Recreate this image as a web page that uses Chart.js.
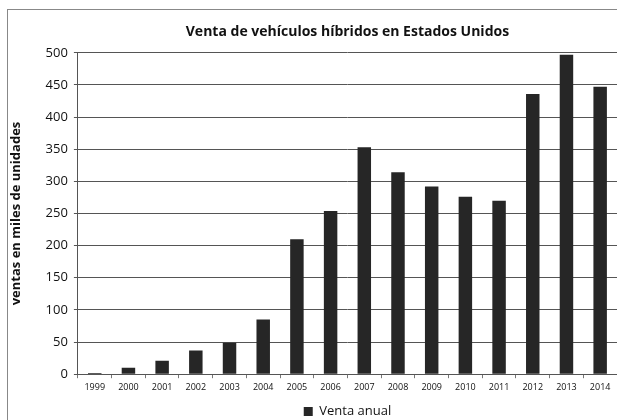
<!DOCTYPE html>
<html>
<head>
<meta charset="utf-8">
<script src="https://cdn.jsdelivr.net/npm/chart.js@4"></script>
<style>
  html, body { margin: 0; padding: 0; background: #fff; }
  #wrap { position: relative; width: 617px; height: 420px; }
  #frame { position: absolute; left: 7px; top: 9px; width: 620px; height: 420px;
           border-left: 1px solid #888; border-top: 1px solid #888; }
  canvas { position: absolute; left: 0; top: 0; }
</style>
</head>
<body>
<div id="wrap">
  <div id="frame"></div>
  <canvas id="ventas" width="617" height="420"></canvas>
</div>
<script>
var years = ['1999', '2000', '2001', '2002', '2003', '2004', '2005', '2006',
             '2007', '2008', '2009', '2010', '2011', '2012', '2013', '2014'];
var ventaAnual = [2, 10, 21, 37, 49, 85, 210, 254, 353, 314, 292, 276, 270, 436, 497, 447];
var yTicks = [0, 50, 100, 150, 200, 250, 300, 350, 400, 450, 500];

var font = '"Open Sans", "Noto Sans", sans-serif';
var ctx = document.getElementById('ventas').getContext('2d');
var chart = new Chart(ctx, {
  type: 'bar',
  data: {
    labels: years,
    datasets: [
      {
        label: 'Venta anual',
        data: ventaAnual,
        backgroundColor: '#262626',
        barPercentage: 0.4,
        categoryPercentage: 1,
      },
    ],
  },
  options: {
    responsive: false,
    animation: false,
    layout: { padding: { left: 8, right: 0, top: 24, bottom: -8 } },
    plugins: {
      title: {
        display: true,
        text: 'Venta de vehículos híbridos en Estados Unidos',
        fullSize: false,
        color: '#111',
        font: { family: font, size: 14, weight: 'bold' },
        padding: { top: 0, bottom: 12 },
      },
      legend: {
        position: 'bottom',
        fullSize: false,
        labels: {
          boxWidth: 9,
          boxHeight: 9,
          color: '#111',
          font: { family: font, size: 13 },
          padding: 1,
        },
      },
      tooltip: { enabled: false },
    },
    scales: {
      x: {
        grid: {
          offset: true,
          drawOnChartArea: false,
          drawTicks: true,
          tickLength: 4,
          color: '#777',
        },
        border: { color: '#555' },
        ticks: {
          color: '#111',
          font: { family: font, size: 9 },
          maxRotation: 0,
          padding: 4,
        },
        afterFit: function (axis) {
          axis.height += 7;
        },
      },
      y: {
        min: 0,
        max: 500,
        afterBuildTicks: function (axis) {
          axis.ticks = yTicks.map(function (v) { return { value: v }; });
        },
        grid: { color: '#555', tickLength: 4 },
        border: { color: '#555' },
        ticks: {
          color: '#111',
          font: { family: font, size: 13 },
          padding: 6,
        },
        title: {
          display: true,
          text: 'ventas en miles de unidades',
          color: '#111',
          font: { family: font, size: 13, weight: 'bold' },
          padding: { top: 0, bottom: 16 },
        },
      },
    },
  },
});
</script>
</body>
</html>
